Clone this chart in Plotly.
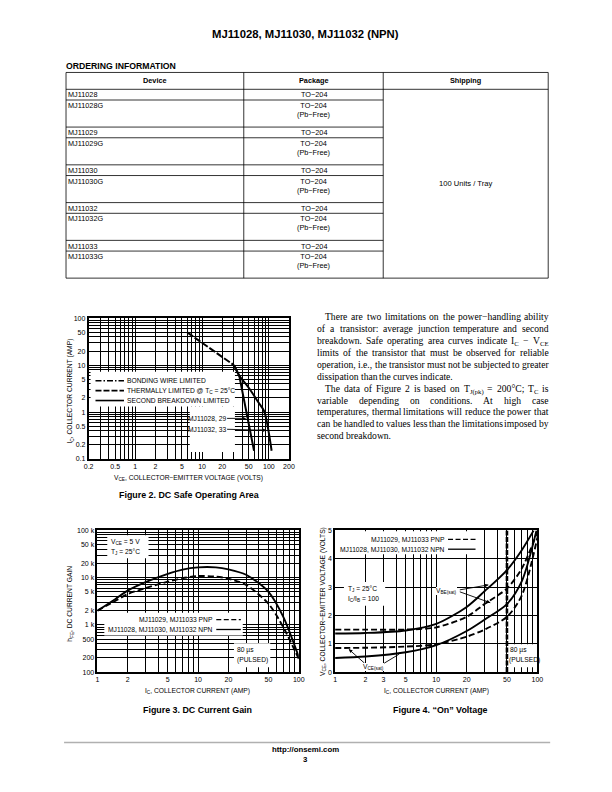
import math
import re
import plotly.graph_objects as go

W, H = 612, 792
OFF = 8  # page body margin of the viewer, compensated in all positions

# ---------------- data ----------------
devices = ["MJ11028", "MJ11028G", "MJ11029", "MJ11029G", "MJ11030",
           "MJ11030G", "MJ11032", "MJ11032G", "MJ11033", "MJ11033G"]
packages = ["TO−204", "TO−204<br>(Pb−Free)"] * 5
shipping = "100 Units / Tray"

# Figure 2 - DC safe operating area
soa_thermal_v = [6, 10, 20, 30]
soa_thermal_i = [50, 30, 15, 10]
soa_sb1_v = [30, 36, 60]            # MJ11028, 29
soa_sb1_i = [10, 6, 0.15]
soa_sb2_v = [30, 36, 50, 70, 85, 110]  # MJ11032, 33
soa_sb2_i = [10, 6, 3.3, 1.6, 1.05, 0.15]
soa_x_labels = [0.2, 0.5, 1, 2, 5, 10, 20, 50, 100, 200]
soa_y_labels = [0.1, 0.2, 0.5, 1, 2, 5, 10, 20, 50, 100]

# Figure 3 - DC current gain
hfe_ic = [1, 1.5, 2, 3, 5, 7, 10, 15, 20, 30, 50, 70, 100]
hfe_npn = [2000, 3500, 5300, 8000, 12000, 14800, 16500, 16500, 15000, 11500, 5000, 1500, 210]
hfe_pnp = [2000, 3200, 4500, 6000, 8200, 9700, 10800, 10500, 9500, 7000, 2800, 900, 190]
hfe_x_labels = [1, 2, 5, 10, 20, 50, 100]
hfe_y_vals = [100, 200, 500, 1000, 2000, 5000, 10000, 20000, 50000, 100000]
hfe_y_text = ["100", "200", "500", "1 k", "2 k", "5 k", "10 k", "20 k", "50 k", "100 k"]

# Figure 4 - "On" voltage
vbe_npn_ic = [1, 2, 5, 10, 20, 30, 50, 70, 92]
vbe_npn = [1.36, 1.38, 1.47, 1.7, 2.3, 2.85, 3.6, 4.3, 5.0]
vbe_pnp_ic = [1, 2, 5, 10, 20, 30, 50, 70, 100]
vbe_pnp = [1.5, 1.5, 1.5, 1.58, 1.95, 2.4, 2.95, 3.65, 4.95]
vce_npn_ic = [1, 2, 5, 10, 20, 30, 50, 70, 98]
vce_npn = [0.5, 0.55, 0.7, 0.95, 1.45, 1.85, 2.4, 3.2, 5.0]
vce_pnp_ic = [1, 2, 5, 10, 20, 30, 50, 70, 100]
vce_pnp = [0.85, 0.86, 0.9, 0.98, 1.25, 1.5, 1.95, 2.7, 4.75]
pulse_limit_ic = 50
von_x_labels = [1, 2, 3, 5, 10, 20, 50, 100]
von_y_labels = [0, 1, 2, 3, 4, 5]

# ---------------- helpers ----------------
FA = "Liberation Sans, Arial, Helvetica, sans-serif"
FS = "Liberation Serif, Times New Roman, serif"


def px(x):
    return (x - OFF) / W


def py(y):
    return 1 - (y - OFF) / H


annotations = []
shapes = []


def ann(x, y, text, size=6.7, font=FA, xanchor="center", yanchor="middle",
        bold=False, angle=0, bg=None):
    if bold:
        text = "<b>" + text + "</b>"
    d = dict(x=px(x), y=py(y), xref="paper", yref="paper", text=text,
             showarrow=False, font=dict(family=font, size=size, color="black"),
             xanchor=xanchor, yanchor=yanchor, textangle=angle,
             borderpad=0, borderwidth=0)
    if bg:
        d["bgcolor"] = bg
    annotations.append(d)


def arrow(x_tip, y_tip, x_tail, y_tail):
    # arrow drawn as a line shape plus a small arrowhead annotation
    line(x_tail, y_tail, x_tip, y_tip, w=0.9)
    annotations.append(dict(x=px(x_tip), y=py(y_tip), xref="paper", yref="paper",
                            ax=(x_tail - x_tip) * 0.25, ay=(y_tail - y_tip) * 0.25,
                            text=" ", showarrow=True, arrowhead=2, arrowsize=0.8,
                            arrowwidth=0.9, arrowcolor="black"))


def line(x0, y0, x1, y1, w=0.8, color="black", dash="solid"):
    shapes.append(dict(type="line", xref="paper", yref="paper",
                       x0=px(x0), y0=py(y0), x1=px(x1), y1=py(y1),
                       line=dict(width=w, color=color, dash=dash), layer="above"))


# axis geometry (reference pixel domains) and value ranges
AX = {
    "1": dict(xd=(85, 289), yd=(317, 459), xr=(0.2, 200), yr=(0.1, 100), ylog=True),
    "2": dict(xd=(94, 299), yd=(531, 674), xr=(1, 100), yr=(100, 100000), ylog=True),
    "3": dict(xd=(336, 542), yd=(531, 674), xr=(1, 100), yr=(0, 5), ylog=False),
}


def to_data(k, xp, yp):
    a = AX[k]
    fx = (xp - a["xd"][0]) / (a["xd"][1] - a["xd"][0])
    lx0, lx1 = math.log10(a["xr"][0]), math.log10(a["xr"][1])
    xv = 10 ** (lx0 + fx * (lx1 - lx0))
    fy = (a["yd"][1] - yp) / (a["yd"][1] - a["yd"][0])
    if a["ylog"]:
        ly0, ly1 = math.log10(a["yr"][0]), math.log10(a["yr"][1])
        yv = 10 ** (ly0 + fy * (ly1 - ly0))
    else:
        yv = a["yr"][0] + fy * (a["yr"][1] - a["yr"][0])
    return xv, yv


fig = go.Figure()


def sfx(k):
    return "" if k == "1" else k


def white_box(k, x0, y0, x1, y1):
    xa, ya = to_data(k, x0, y0)
    xb, yb = to_data(k, x1, y1)
    fig.add_trace(go.Scatter(x=[xa, xb, xb, xa, xa], y=[ya, ya, yb, yb, ya],
                             xaxis="x" + sfx(k), yaxis="y" + sfx(k),
                             fill="toself", fillcolor="white", mode="lines",
                             line=dict(width=0, color="white"), hoverinfo="skip"))


def curve(k, xs, ys, dash="solid", w=1.8, shape="spline"):
    ln = dict(color="black", width=w, dash=dash, shape=shape)
    if shape == "spline":
        ln["smoothing"] = 0.8
    fig.add_trace(go.Scatter(x=xs, y=ys, mode="lines",
                             xaxis="x" + sfx(k), yaxis="y" + sfx(k),
                             line=ln, hoverinfo="skip"))


def log_grid(lo, hi):
    vals = []
    e = math.floor(math.log10(lo))
    while 10 ** e <= hi * 1.0001:
        for m in range(1, 10):
            v = m * 10 ** e
            if lo * 0.9999 <= v <= hi * 1.0001:
                vals.append(v)
        e += 1
    return vals


def not_in(vals, labels):
    return [v for v in vals if all(abs(v - l) > 1e-9 * max(1, l) for l in labels)]


def axis(k, which, vals, texts, minor_vals=None, log=True):
    a = AX[k]
    if which == "x":
        dom = [px(a["xd"][0]), px(a["xd"][1])]
        rng = [math.log10(a["xr"][0]), math.log10(a["xr"][1])]
    else:
        dom = [py(a["yd"][1]), py(a["yd"][0])]
        rng = ([math.log10(a["yr"][0]), math.log10(a["yr"][1])] if log
               else [a["yr"][0], a["yr"][1]])
    d = dict(type="log" if log else "linear", domain=dom, range=rng,
             tickmode="array", tickvals=vals, ticktext=texts,
             showgrid=True, gridcolor="black", gridwidth=1.15,
             showline=True, linecolor="black", linewidth=1.7, mirror=True,
             ticks="", zeroline=False, fixedrange=True,
             tickfont=dict(family=FA, size=7, color="black"),
             anchor=("y" if which == "x" else "x") + sfx(k))
    if minor_vals:
        d["minor"] = dict(tickmode="array", tickvals=minor_vals, showgrid=True,
                          gridcolor="black", gridwidth=1.15, ticks="")
    return d


# ---------------- Figure 2 ----------------
white_box("1", 87, 371, 234, 406)
white_box("1", 188, 406, 234, 452)
curve("1", soa_thermal_v, soa_thermal_i, dash="7px,2px", w=2.0, shape="linear")
curve("1", soa_sb1_v, soa_sb1_i, w=2.0, shape="linear")
curve("1", soa_sb2_v, soa_sb2_i, w=2.0, shape="spline")

# ---------------- Figure 3 ----------------
white_box("2", 104, 536, 146, 559)
white_box("2", 101, 614, 242, 637)
white_box("2", 233, 645, 270, 669)
curve("2", hfe_ic, hfe_npn, w=1.9)
curve("2", hfe_ic, hfe_pnp, dash="6px,3px", w=1.9)

# ---------------- Figure 4 ----------------
white_box("3", 342, 532, 482, 555)
white_box("3", 345, 583, 387, 607)
white_box("3", 511, 646, 541, 669)
curve("3", [pulse_limit_ic, pulse_limit_ic], [0, 5], dash="5px,1.5px", w=2.6, shape="linear")
curve("3", vbe_npn_ic, vbe_npn, w=1.9)
curve("3", vbe_pnp_ic, vbe_pnp, dash="6px,3px", w=1.9)
curve("3", vce_npn_ic, vce_npn, w=1.9)
curve("3", vce_pnp_ic, vce_pnp, dash="6px,3px", w=1.9)

# ---------------- axes ----------------
soa_xv = log_grid(0.2, 200)
soa_yv = log_grid(0.1, 100)
hfe_xv = log_grid(1, 100)
hfe_yv = log_grid(100, 100000)
layout_axes = dict(
    xaxis=axis("1", "x", soa_x_labels, ["%g" % v for v in soa_x_labels],
               not_in(soa_xv, soa_x_labels)),
    yaxis=axis("1", "y", soa_y_labels, ["%g" % v for v in soa_y_labels],
               not_in(soa_yv, soa_y_labels)),
    xaxis2=axis("2", "x", hfe_x_labels, ["%g" % v for v in hfe_x_labels],
                not_in(hfe_xv, hfe_x_labels)),
    yaxis2=axis("2", "y", hfe_y_vals, hfe_y_text, not_in(hfe_yv, hfe_y_vals)),
    xaxis3=axis("3", "x", von_x_labels, ["%g" % v for v in von_x_labels],
                not_in(hfe_xv, von_x_labels)),
    yaxis3=axis("3", "y", von_y_labels, [str(v) for v in von_y_labels], log=False),
)

# ---------------- page header & table ----------------
ann(306, 30, "MJ11028, MJ11030, MJ11032 (NPN)", size=11.3, bold=True)
ann(62, 62, "ORDERING INFORMATION", size=8.7, bold=True, xanchor="left")

col_x = [62, 243, 385, 553]
tab_top, head_bot = 69, 86
row_h = [10.8 if "<br>" not in p else 27.3 for p in packages]
row_tops = []
y = head_bot
for h in row_h:
    row_tops.append(y)
    y += h
tab_bot = y
line(col_x[0], tab_top, col_x[3], tab_top)
line(col_x[0], head_bot, col_x[3], head_bot)
line(col_x[0], tab_bot, col_x[3], tab_bot)
for cx in col_x:
    line(cx, tab_top, cx, tab_bot)
for t in row_tops[1:]:
    line(col_x[0], t, col_x[2], t)
ann((col_x[0] + col_x[1]) / 2, 77.5, "Device", size=7.3, bold=True)
ann((col_x[1] + col_x[2]) / 2, 77.5, "Package", size=7.3, bold=True)
ann((col_x[2] + col_x[3]) / 2, 77.5, "Shipping", size=7.3, bold=True)
for d, p, t in zip(devices, packages, row_tops):
    ann(64, t + 1.2, d, size=7.3, xanchor="left", yanchor="top")
    ann((col_x[1] + col_x[2]) / 2, t + 1.2, p, size=7.3, yanchor="top")
ann((col_x[2] + col_x[3]) / 2, (head_bot + tab_bot) / 2, shipping, size=7.6)

# ---------------- body text (justified) ----------------
TW = dict(zip("abcdefghijklmnopqrstuvwxyz",
              [444, 500, 444, 500, 444, 333, 500, 500, 278, 278, 500, 278, 778,
               500, 500, 500, 500, 333, 389, 278, 500, 500, 722, 500, 500, 444]))
TW.update(dict(zip("ABCDEFGHIJKLMNOPQRSTUVWXYZ",
                   [722, 667, 667, 722, 611, 556, 722, 722, 333, 389, 722, 611, 889,
                    722, 722, 556, 722, 667, 556, 611, 722, 722, 944, 722, 722, 611])))
TW.update({c: 500 for c in "0123456789"})
TW.update({".": 250, ",": 250, ":": 278, ";": 278, "(": 333, ")": 333, "−": 564,
           "-": 333, "°": 400, "=": 564, " ": 250})


def word_w(w, size):
    total = 0.0
    for part in re.split(r"(<sub>.*?</sub>)", w):
        if part.startswith("<sub>"):
            total += sum(TW.get(c, 500) for c in part[5:-6]) * 0.7
        else:
            total += sum(TW.get(c, 500) for c in part)
    return total / 1000 * size


body = [
    ("There are two limitations on the power−handling ability", True, True),
    ("of a transistor: average junction temperature and second", False, True),
    ("breakdown. Safe operating area curves indicate I<sub>C</sub> − V<sub>CE</sub>", False, True),
    ("limits of the transistor that must be observed for reliable", False, True),
    ("operation, i.e., the transistor must not be subjected to greater", False, True),
    ("dissipation than the curves indicate.", False, False),
    ("The data of Figure 2 is based on T<sub>J(pk)</sub> = 200°C; T<sub>C</sub> is", True, True),
    ("variable depending on conditions. At high case", False, True),
    ("temperatures, thermal limitations will reduce the power that", False, True),
    ("can be handled to values less than the limitations imposed by", False, True),
    ("second breakdown.", False, False),
]
BS = 9.6
x_left, x_right = 318, 553
for i, (txt, indent, just) in enumerate(body):
    yc = 316 + i * 12.0
    words = txt.split(" ")
    ws = [word_w(w, BS) for w in words]
    x0 = x_left + (8 if indent else 0)
    if just and len(words) > 1:
        gap = (x_right - x0 - sum(ws)) / (len(words) - 1)
    else:
        gap = 250 / 1000 * BS
    xx = x0
    for w, wd in zip(words, ws):
        ann(xx, yc - 6.0, w, size=BS, font=FS, xanchor="left", yanchor="top")
        xx += wd + gap

# ---------------- Figure 2 texts ----------------
ann(66, 390, "I<sub>C</sub>, COLLECTOR CURRENT (AMP)", angle=-90)
ann(187, 478, "V<sub>CE</sub>, COLLECTOR−EMITTER VOLTAGE (VOLTS)")
ann(187, 495, "Figure 2. DC Safe Operating Area", size=8.9, bold=True)
line(92, 380, 121, 380, w=1.6, dash="6px,2px,1.5px,2px")
line(92, 390, 121, 390, w=1.6, dash="6px,2px")
line(92, 400, 121, 400, w=1.6)
ann(124, 380, "BONDING WIRE LIMITED", xanchor="left")
ann(124, 390, "THERMALLY LIMITED @ T<sub>C</sub> = 25°C", xanchor="left")
ann(124, 400, "SECOND BREAKDOWN LIMITED", xanchor="left")
ann(225, 418, "MJ11028, 29", xanchor="right")
ann(225, 429, "MJ11032, 33", xanchor="right")
arrow(245, 418, 226, 418)
arrow(266, 430, 226, 429)

# ---------------- Figure 3 texts ----------------
ann(66, 605, "h<sub>FE</sub>, DC CURRENT GAIN", angle=-90)
ann(196, 693, "I<sub>C</sub>, COLLECTOR CURRENT (AMP)")
ann(196, 712, "Figure 3. DC Current Gain", size=8.9, bold=True)
ann(108, 543, "V<sub>CE</sub> = 5 V", xanchor="left")
ann(108, 553, "T<sub>J</sub> = 25°C", xanchor="left")
ann(212, 621, "MJ11029, MJ11033 PNP", xanchor="right")
ann(212, 631, "MJ11028, MJ11030, MJ11032 NPN", xanchor="right")
line(215, 621, 240, 621, w=1.3, dash="5px,2.5px")
line(215, 631, 240, 631, w=1.3)
ann(236, 652, "80 µs", xanchor="left")
ann(236, 662, "(PULSED)", xanchor="left")

# ---------------- Figure 4 texts ----------------
ann(323, 603, "V<sub>CE</sub>, COLLECTOR−EMITTER VOLTAGE (VOLTS)", angle=-90)
ann(439, 693, "I<sub>C</sub>, COLLECTOR CURRENT (AMP)")
ann(443, 712, "Figure 4. “On” Voltage", size=8.9, bold=True)
ann(448, 540, "MJ11029, MJ11033 PNP", xanchor="right")
ann(448, 550, "MJ11028, MJ11030, MJ11032 NPN", xanchor="right")
line(451, 540, 479, 540, w=1.3, dash="5px,2.5px")
line(451, 550, 479, 550, w=1.3)
ann(349, 590, "T<sub>J</sub> = 25°C", xanchor="left")
ann(349, 600, "I<sub>C</sub>/I<sub>B</sub> = 100", xanchor="left")
ann(449, 592, "V<sub>BE(sat)</sub>", bg="white")
arrow(492, 586, 463, 591)
arrow(494, 604, 463, 593)
ann(375, 669, "V<sub>CE(sat)</sub>", bg="white")
arrow(350, 651, 366, 665)
arrow(401, 656, 386, 665)
ann(514, 652, "80 µs", xanchor="left")
ann(513, 662, "(PULSED)", xanchor="left")

# ---------------- footer ----------------
line(60, 745, 555, 745, w=1.5, color="#b0b0b0")
ann(306, 752, "http://onsemi.com", size=7.8, bold=True)
ann(306, 762, "3", size=7.8, bold=True)

fig.update_layout(
    width=W, height=H, margin=dict(l=0, r=0, t=0, b=0),
    paper_bgcolor="white", plot_bgcolor="white", showlegend=False,
    annotations=annotations, shapes=shapes, **layout_axes,
)
fig.write_html("out.html")
